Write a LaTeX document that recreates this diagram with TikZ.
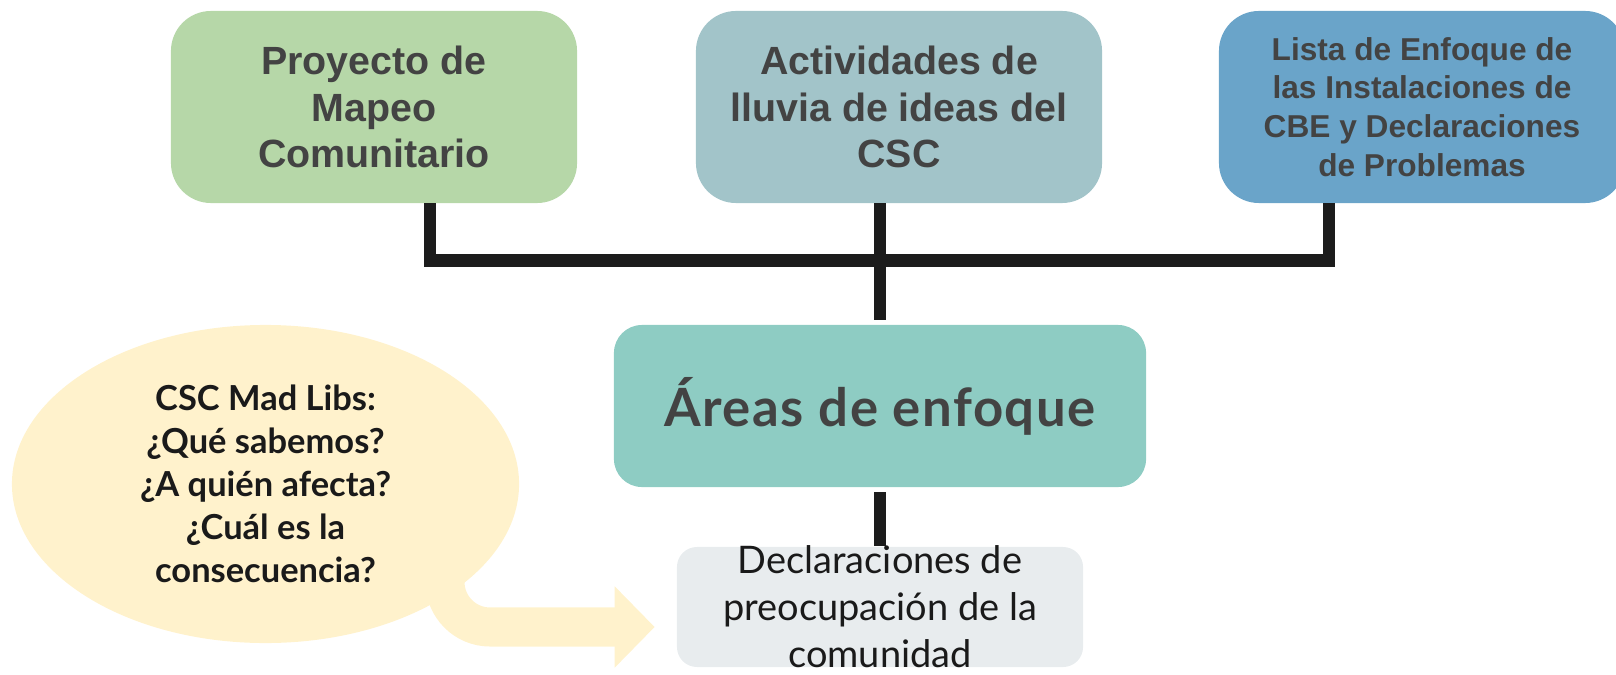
\documentclass[tikz,border=0pt]{standalone}
\usepackage{fontspec}
\setmainfont{Liberation Sans}
\newfontfamily\lato{Lato}
\usetikzlibrary{arrows.meta,shapes.geometric,calc}
\definecolor{mapgreen}{HTML}{B6D7A8}
\definecolor{ideasteal}{HTML}{A2C4C9}
\definecolor{listablue}{HTML}{6AA4C9}
\definecolor{areasteal}{HTML}{8ECCC3}
\definecolor{declgray}{HTML}{E8ECEE}
\definecolor{bubbleyellow}{HTML}{FFF2CC}
\definecolor{textgray}{HTML}{434343}
\definecolor{linkblack}{HTML}{1C1C1C}
\definecolor{darktext}{HTML}{1A1A1A}
\begin{document}
\begin{tikzpicture}
		[x=0.025cm,y=-0.025cm,
		topbox/.style={rounded corners=1cm,minimum width=10.15cm,minimum height=4.8cm,inner sep=0pt,align=center,text=textgray,font=\bfseries\fontsize{28}{33}\selectfont},
		link/.style={draw=linkblack,line width=0.3cm},
		tail/.style={draw=bubbleyellow,line width=0.975cm,rounded corners=1.125cm,-{Triangle[length=1cm,width=1.975cm]}}]
		\useasboundingbox (0,0) rectangle (1616,675);

		% the three sources on top
		\node [topbox,fill=mapgreen] (mapeo) at (374,107) {Proyecto de\\Mapeo\\Comunitario};
		\node [topbox,fill=ideasteal] (lluvia) at (899,107) {Actividades de\\lluvia de ideas del\\CSC};
		\node [topbox,fill=listablue,font=\bfseries\fontsize{22.5}{27.5}\selectfont] (lista) at (1422,107) {Lista de Enfoque de\\las Instalaciones de\\CBE y Declaraciones\\de Problemas};

		% the focus areas and the statements
		\node [fill=areasteal,rounded corners=0.7cm,minimum width=13.3cm,minimum height=4.05cm,inner sep=0pt,text=textgray,font=\lato\bfseries\fontsize{37.5}{44}\selectfont\addfontfeature{LetterSpace=3}] (areas) at (880,406) {Áreas de enfoque};
		\node [fill=declgray,rounded corners=0.5cm,minimum width=10.15cm,minimum height=3cm,inner xsep=0pt,inner ysep=-0.2cm,text height=86pt,text depth=0pt,align=center,text=darktext,font=\lato\fontsize{27}{33.5}\selectfont] (decl) at (880,607) {Declaraciones de\\preocupación de la\\comunidad};

		% the speech bubble
		\node [ellipse,fill=bubbleyellow,minimum width=12.675cm,minimum height=7.95cm,inner sep=0pt,align=center,text=darktext,font=\lato\bfseries\fontsize{24.5}{30.5}\selectfont] (bubble) at (265.5,484) {CSC Mad Libs:\\¿Qué sabemos?\\¿A quién afecta?\\¿Cuál es la\\consecuencia?};

		% draw the connectors
		\coordinate (barleft) at (430,260.5);
		\coordinate (barright) at (1329,260.5);
		\draw [link] (mapeo.south -| barleft) -- (barleft) -- (barright) -- (lista.south -| barright);
		\draw [link,shorten >=0.125cm] (lluvia.south -| areas.north) -- (areas.north);
		\draw [link,shorten <=0.125cm,shorten >=0.025cm] (areas.south) -- (decl.north);

		% the tail of the bubble
		\coordinate (tipend) at ($(decl.west)+(-22,20)$);
		\draw [tail] ($(bubble.center)+(179.5,60)$) |- (tipend);
	\end{tikzpicture}
\end{document}
